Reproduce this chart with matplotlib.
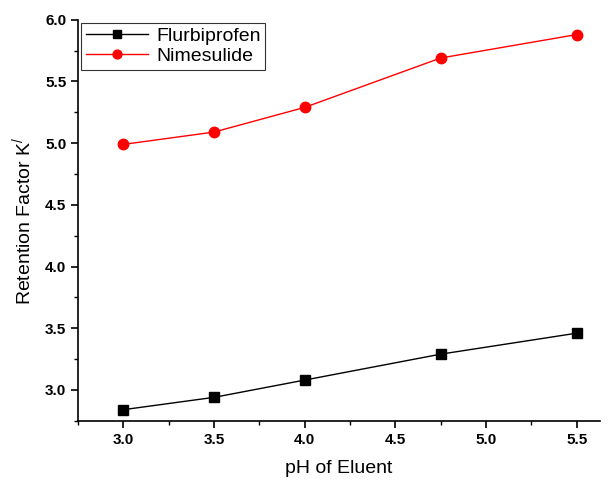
import matplotlib
matplotlib.use("Agg")
import matplotlib.pyplot as plt
from matplotlib.ticker import MultipleLocator

plt.rcParams['font.family'] = ['Liberation Sans', 'DejaVu Sans']
plt.rcParams['mathtext.fontset'] = 'custom'
plt.rcParams['mathtext.rm'] = 'Liberation Sans'
plt.rcParams['mathtext.it'] = 'Liberation Sans'

ph = [3.0, 3.5, 4.0, 4.75, 5.5]
flurbiprofen = [2.84, 2.94, 3.08, 3.29, 3.46]
nimesulide = [4.99, 5.09, 5.29, 5.69, 5.88]

fig = plt.figure(figsize=(6.15, 4.82), dpi=100)
ax = fig.add_axes([0.127, 0.127, 0.849, 0.832])

ax.plot(ph, flurbiprofen, color='black', lw=1, marker='s', ms=7, label='Flurbiprofen')
ax.plot(ph, nimesulide, color='red', lw=1, marker='o', ms=7.5, label='Nimesulide')

ax.set_xlim(2.75, 5.63)
ax.set_ylim(2.75, 6.0)
ax.xaxis.set_major_locator(MultipleLocator(0.5))
ax.xaxis.set_minor_locator(MultipleLocator(0.25))
ax.yaxis.set_major_locator(MultipleLocator(0.5))
ax.yaxis.set_minor_locator(MultipleLocator(0.25))

ax.spines['top'].set_visible(False)
ax.spines['right'].set_visible(False)
ax.spines['left'].set_linewidth(1.2)
ax.spines['bottom'].set_linewidth(1.2)
ax.tick_params(which='major', direction='out', length=5, width=1.2, labelsize=11)
ax.tick_params(which='minor', direction='out', length=3, width=1)
for lab in ax.get_xticklabels() + ax.get_yticklabels():
    lab.set_fontweight('bold')

ax.set_xlabel('pH of Eluent', fontsize=14, labelpad=10)
ax.set_ylabel(r'Retention Factor K$^{/}$', fontsize=14, labelpad=8)

leg = ax.legend(loc='upper left', fontsize=14, frameon=True, fancybox=False,
                borderaxespad=0.15, handlelength=3.2, handletextpad=0.4,
                borderpad=0.25, labelspacing=0.1, markerscale=0.85)
leg.get_frame().set_edgecolor('black')
leg.get_frame().set_linewidth(0.8)

fig.savefig('out.png', dpi=100)
